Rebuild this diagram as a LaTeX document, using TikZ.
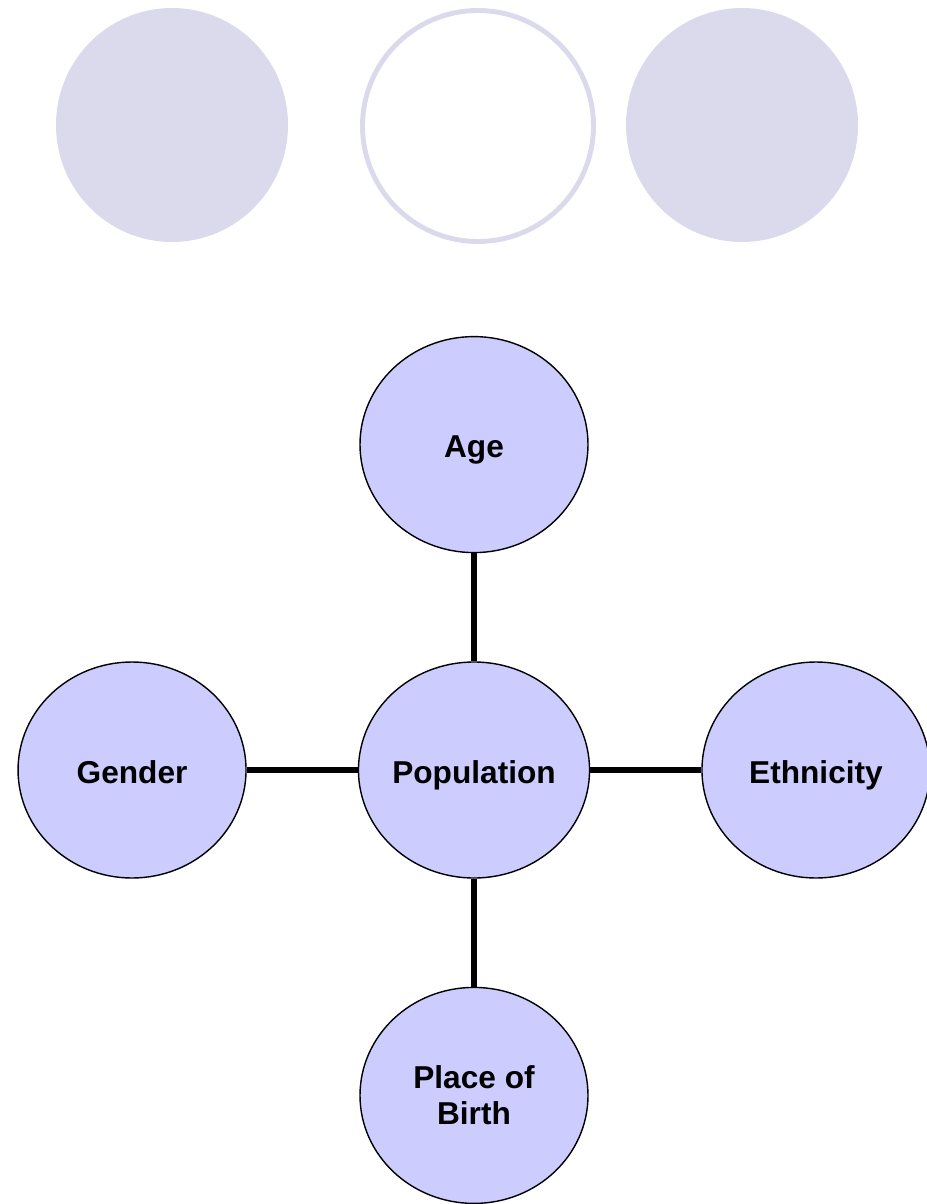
\documentclass[tikz,border=0pt]{standalone}
\usepackage{fontspec}
\setmainfont{Liberation Sans}
\usepackage{tikz}
\usetikzlibrary{positioning,shapes.geometric}
\definecolor{bubble}{HTML}{CCCCFF}
\definecolor{deco}{HTML}{DADAEC}

\begin{document}
\begin{tikzpicture}[
 node distance=2.16cm and 2.22cm,
 topic/.style={ellipse,draw=black,line width=0.8pt,fill=bubble,minimum width=4.56cm,minimum height=4.32cm,inner sep=0pt,align=center,font=\fontsize{18}{20.5}\selectfont\bfseries},
 oneline/.style={text height=15pt,text depth=0pt},
 link/.style={line width=3pt},
]
\useasboundingbox (0,0) rectangle (18.52,-24.08);
% decoration at the top
\fill[deco] (3.44,-2.5) ellipse (2.32cm and 2.34cm);
\draw[deco,line width=2.8pt] (9.56,-2.52) ellipse (2.31cm and 2.31cm);
\fill[deco] (14.84,-2.5) ellipse (2.32cm and 2.34cm);
% the diagram
\node[topic,oneline] (pop) at (9.48,-15.4) {Population};
\node[topic,oneline,above=of pop] (age) {Age};
\node[topic,oneline,left=of pop] (gender) {Gender};
\node[topic,oneline,right=of pop] (ethnic) {Ethnicity};
\node[topic,below=of pop] (birth) {Place of\\Birth};
\draw[link] (age) -- (pop);
\draw[link] (gender) -- (pop);
\draw[link] (pop) -- (ethnic);
\draw[link] (pop) -- (birth);
\end{tikzpicture}
\end{document}
